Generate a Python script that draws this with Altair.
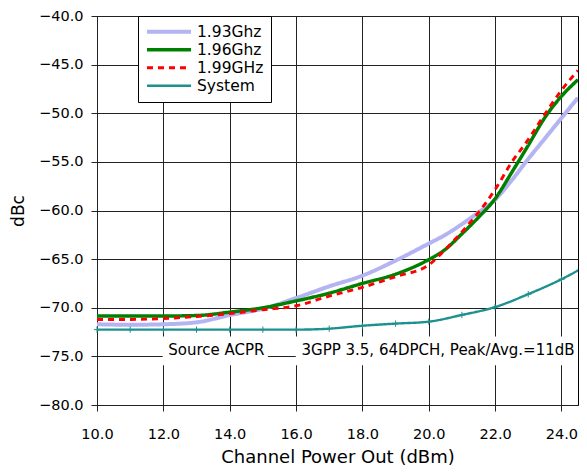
import altair as alt
import pandas as pd

# ---- data ----
x_main = [10, 11, 12, 13, 14, 15, 16, 17, 18, 19, 20, 20.5, 21, 21.5, 22, 22.5, 23, 23.5, 24, 24.5]
acpr_193 = [-71.7, -71.75, -71.7, -71.5, -70.75, -70.1, -69.0, -67.8, -66.7, -65.15, -63.4,
            -62.5, -61.4, -60.2, -58.9, -56.9, -54.7, -52.6, -50.5, -48.4]
acpr_196 = [-70.85, -70.85, -70.85, -70.8, -70.45, -70.0, -69.3, -68.5, -67.5, -66.55, -65.05,
            -64.0, -62.4, -60.7, -58.8, -56.1, -53.3, -50.45, -48.25, -46.55]
acpr_199 = [-71.2, -71.2, -71.1, -70.9, -70.6, -70.2, -69.8, -68.8, -67.9, -66.8, -65.6,
            -64.0, -62.2, -60.2, -57.85, -55.05, -52.7, -50.1, -47.65, -45.6]
x_sys = [10, 11, 12, 13, 14, 15, 16, 17, 18, 19, 20, 21, 22, 23, 24, 25]
acpr_sys = [-72.25, -72.25, -72.25, -72.25, -72.25, -72.25, -72.25, -72.15, -71.85, -71.63,
            -71.43, -70.74, -69.93, -68.6, -67.07, -65.2]

series_names = ["1.93Ghz", "1.96Ghz", "1.99GHz", "System"]
series_colors = ["#b4b4f2", "#008000", "#ff0000", "#1f9090"]
series_widths = [4, 2.4, 2.8, 1]
series_dashes = [[1, 0], [1, 0], [6, 5], [1, 0]]

note_labels = ["Source ACPR", "3GPP 3.5, 64DPCH, Peak/Avg.=11dB"]
note_x = [13.6, 20.28]
note_x0 = [11.98, 15.99]
note_x1 = [15.15, 24.5]
note_y = -74.35
note_y0 = -72.95
note_y1 = -75.9

x_ticks = [10, 12, 14, 16, 18, 20, 22, 24]
y_ticks = [-80, -75, -70, -65, -60, -55, -50, -45, -40]

# ---- tables ----
rows = []
for name, ys in zip(series_names[:3], [acpr_193, acpr_196, acpr_199]):
    for xv, yv in zip(x_main, ys):
        rows.append({"x": xv, "y": yv, "series": name})
for xv, yv in zip(x_sys, acpr_sys):
    rows.append({"x": xv, "y": yv, "series": "System"})
df = pd.DataFrame(rows)
df_sys = pd.DataFrame({"x": x_sys, "y": acpr_sys})
df_sys = df_sys[df_sys["x"] <= 24.5]

notes = pd.DataFrame({"label": note_labels, "x": note_x, "x0": note_x0, "x1": note_x1,
                      "y": [note_y] * 2, "y0": [note_y0] * 2, "y1": [note_y1] * 2})

FONT = "DejaVu Sans"
xscale = alt.Scale(domain=[10, 24.5], nice=False, zero=False)
yscale = alt.Scale(domain=[-80, -40], nice=False, zero=False)

xax = alt.X("x:Q", scale=xscale,
            axis=alt.Axis(values=x_ticks, format=".1f", title="Channel Power Out (dBm)",
                          labelFlush=False, labelPadding=16, titlePadding=8, titleFontSize=18))
yax = alt.Y("y:Q", scale=yscale,
            axis=alt.Axis(values=y_ticks, format=".1f", title="dBc", labelFlush=False,
                          labelPadding=8, titlePadding=11, titleFontSize=17))

legend = alt.Legend(title=None, orient="none", legendX=41, legendY=0,
                    symbolType="stroke", symbolSize=1936, labelFontSize=15.5,
                    labelFont=FONT, labelColor="black", fillColor="white",
                    strokeColor="black", padding=7, rowPadding=0, clipHeight=17.5,
                    labelOffset=4, symbolOpacity=1)

lines = alt.Chart(df).mark_line(interpolate="monotone", clip=True).encode(
    x=xax, y=yax,
    color=alt.Color("series:N", scale=alt.Scale(domain=series_names, range=series_colors),
                    legend=legend),
    strokeDash=alt.StrokeDash("series:N", scale=alt.Scale(domain=series_names, range=series_dashes),
                              legend=legend),
    strokeWidth=alt.StrokeWidth("series:N", scale=alt.Scale(domain=series_names, range=series_widths),
                                legend=legend),
)

marks = alt.Chart(df_sys).mark_point(shape="M-1,0H1M0,-1V1", filled=False, strokeWidth=1,
                                     size=40, color="#1f9090", opacity=1).encode(
    x=alt.X("x:Q", scale=xscale), y=alt.Y("y:Q", scale=yscale))

boxes = alt.Chart(notes).mark_rect(fill="white").encode(
    x=alt.X("x0:Q", scale=xscale), x2="x1:Q",
    y=alt.Y("y0:Q", scale=yscale), y2="y1:Q")

texts = alt.Chart(notes).mark_text(font=FONT, fontSize=15, color="black").encode(
    x=alt.X("x:Q", scale=xscale), y=alt.Y("y:Q", scale=yscale), text="label:N")

chart = alt.layer(boxes, texts, lines, marks).properties(
    width=481, height=389,
    autosize=alt.AutoSizeParams(type="none"),
    padding={"left": 89, "top": 8, "right": 1, "bottom": 62},
).configure_view(stroke="black", strokeWidth=1).configure_axis(
    grid=True, gridColor="#222", gridWidth=1, gridOpacity=1,
    domain=False, tickColor="#222", tickSize=6,
    labelFont=FONT, labelFontSize=14.5, labelColor="black",
    titleFont=FONT, titleFontWeight="normal", titleColor="black",
)

chart.save("out.html", embed_options={"renderer": "svg", "actions": False})
